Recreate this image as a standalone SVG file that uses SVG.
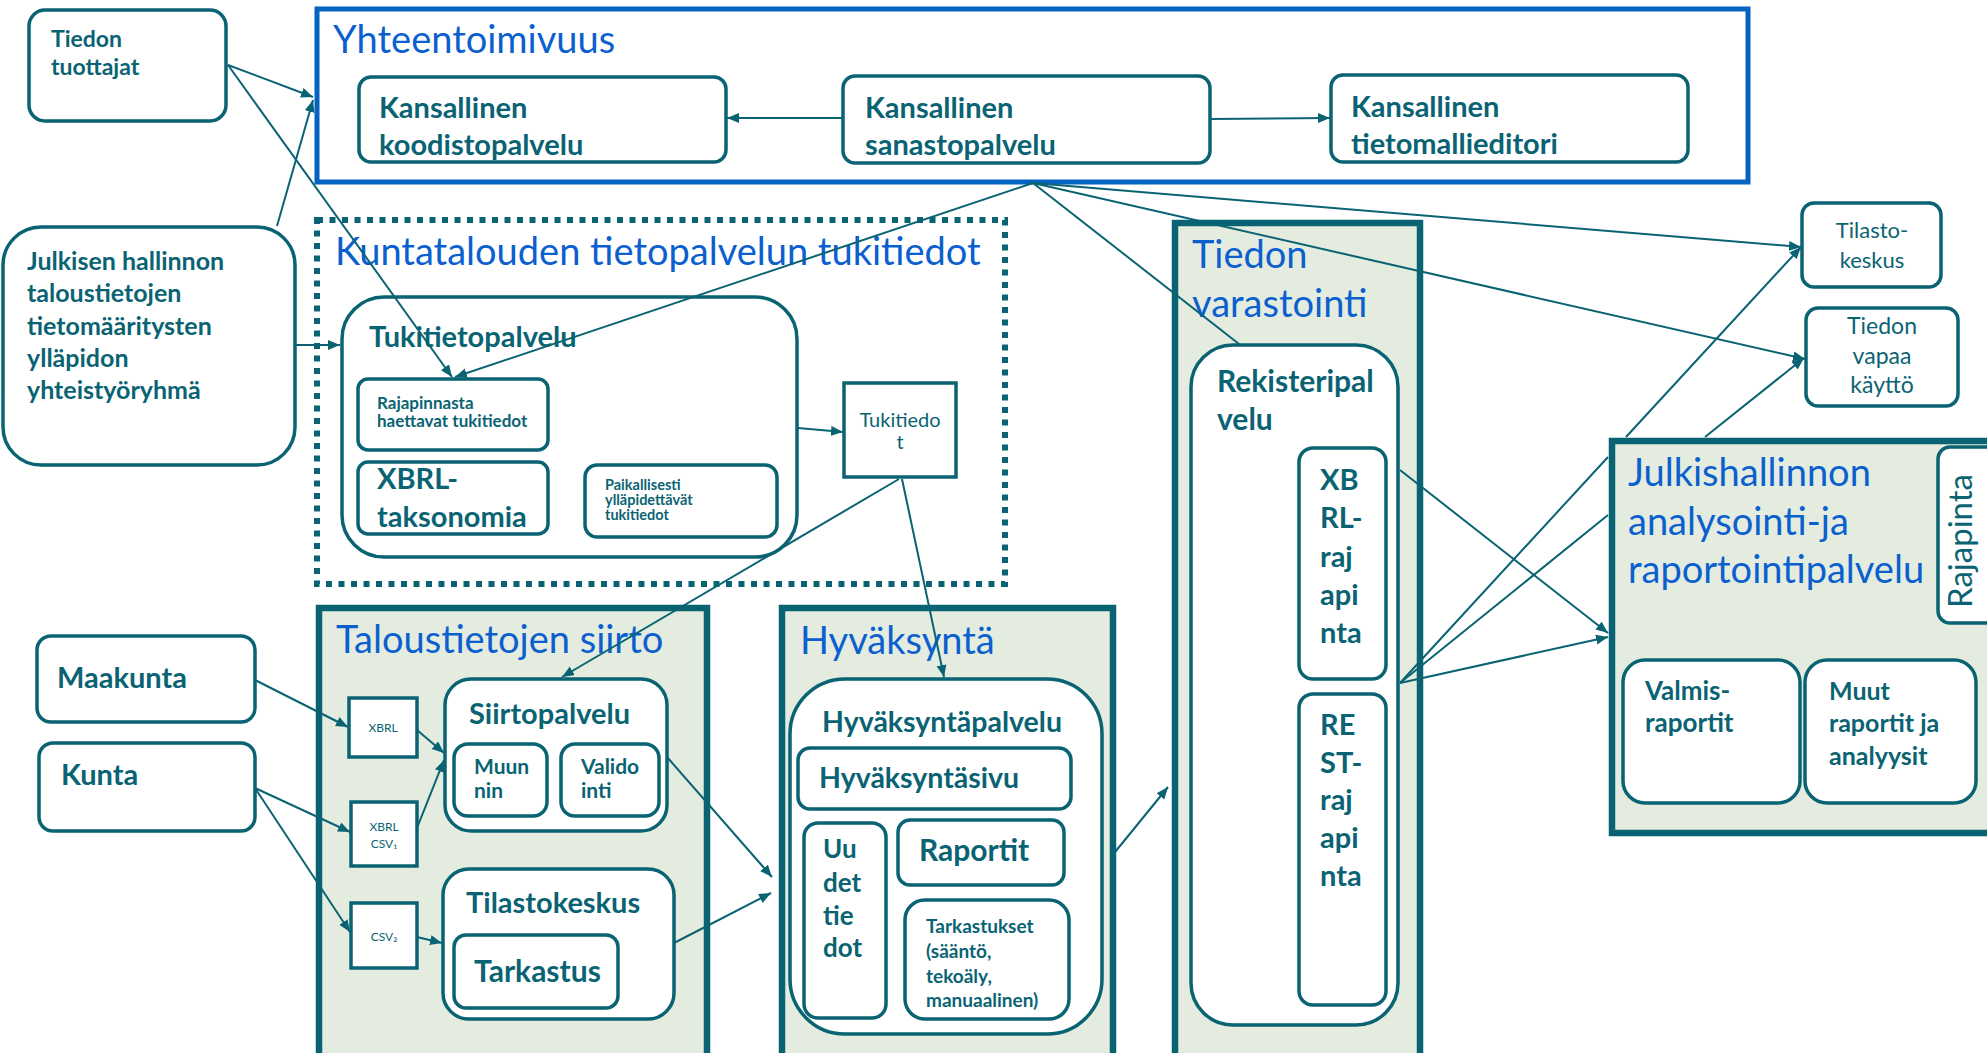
<svg xmlns="http://www.w3.org/2000/svg" width="1987" height="1053" viewBox="0 0 1987 1053">
<defs>
<marker id="arr" markerUnits="userSpaceOnUse" markerWidth="13" markerHeight="11" refX="12" refY="5" orient="auto">
<path d="M0,0 L12,5 L0,10 z" fill="#0a6373"/>
</marker>
<style>
.box{fill:#fff;stroke:#0a6373;stroke-width:3.5}
.sq{fill:#fff;stroke:#0a6373;stroke-width:3.5}
.cont{fill:#e4ece0;stroke:#0a6373;stroke-width:6.5}
.blue{fill:none;stroke:#0563c1;stroke-width:5}
.dot{fill:none;stroke:#0a6373;stroke-width:6;stroke-dasharray:6 6.5}
.t{font-family:Lato,"Liberation Sans",sans-serif;fill:#0a6373;font-weight:bold}
.r{font-family:Lato,"Liberation Sans",sans-serif;fill:#0a6373;font-weight:normal}
.ti{font-family:Lato,"Liberation Sans",sans-serif;fill:#0b5fcf;font-size:38px}
.c{stroke:#0a6373;stroke-width:2;fill:none}
.ca{stroke:#0a6373;stroke-width:2;fill:none;marker-end:url(#arr)}
</style>
</defs>
<rect width="1987" height="1053" fill="#fff"/>

<g id="yhteentoimivuus">
<rect class="blue" x="317" y="9" width="1431" height="173"/>
<text class="ti" x="333" y="53">Yhteentoimivuus</text>
</g>
<g id="koodistopalvelu">
<rect class="box" x="359" y="77" width="367" height="85" rx="12"/>
<text class="t" font-size="29" x="379" y="118">Kansallinen</text>
<text class="t" font-size="29" x="379" y="155">koodistopalvelu</text>
</g>
<g id="sanastopalvelu">
<rect class="box" x="843" y="76" width="367" height="87" rx="12"/>
<text class="t" font-size="29" x="865" y="118">Kansallinen</text>
<text class="t" font-size="29" x="865" y="155">sanastopalvelu</text>
</g>
<g id="tietomallieditori">
<rect class="box" x="1331" y="75" width="357" height="87" rx="12"/>
<text class="t" font-size="29" x="1351" y="117">Kansallinen</text>
<text class="t" font-size="29" x="1351" y="154">tietomallieditori</text>
</g>

<g id="tiedon-tuottajat">
<rect class="box" x="29" y="10" width="197" height="111" rx="16"/>
<text class="t" font-size="23" x="51" y="47">Tiedon</text>
<text class="t" font-size="23" x="51" y="75">tuottajat</text>
</g>
<g id="julkisen-hallinnon">
<rect class="box" x="3" y="227" width="292" height="238" rx="38"/>
<text class="t" font-size="25" x="27" y="270">Julkisen hallinnon</text>
<text class="t" font-size="25" x="27" y="302">taloustietojen</text>
<text class="t" font-size="25" x="27" y="335">tietomääritysten</text>
<text class="t" font-size="25" x="27" y="367">ylläpidon</text>
<text class="t" font-size="25" x="27" y="399">yhteistyöryhmä</text>
</g>

<g id="kuntatalouden-tukitiedot">
<rect class="dot" x="317" y="220" width="688" height="364"/>
<text class="ti" x="335" y="265">Kuntatalouden tietopalvelun tukitiedot</text>
</g>
<g id="tukitietopalvelu">
<rect class="box" x="342" y="297" width="455" height="260" rx="42"/>
<text class="t" font-size="29" x="369" y="347">Tukitietopalvelu</text>
</g>
<g id="rajapinnasta">
<rect class="box" x="358" y="379" width="190" height="71" rx="10"/>
<text class="t" font-size="17" x="377" y="409">Rajapinnasta</text>
<text class="t" font-size="17" x="377" y="427">haettavat tukitiedot</text>
</g>
<g id="xbrl-taksonomia">
<rect class="box" x="358" y="462" width="190" height="72" rx="10"/>
<text class="t" font-size="29" x="377" y="489">XBRL-</text>
<text class="t" font-size="29" x="377" y="527">taksonomia</text>
</g>
<g id="paikallisesti">
<rect class="box" x="585" y="465" width="192" height="72" rx="12"/>
<text class="t" font-size="14.5" x="605" y="490">Paikallisesti</text>
<text class="t" font-size="14.5" x="605" y="505">ylläpidettävät</text>
<text class="t" font-size="14.5" x="605" y="520">tukitiedot</text>
</g>
<g id="tukitiedot">
<rect class="sq" x="844" y="383" width="112" height="94"/>
<text class="r" font-size="20" x="900" y="427" text-anchor="middle">Tukitiedo</text>
<text class="r" font-size="20" x="900" y="449" text-anchor="middle">t</text>
</g>

<g id="taloustietojen-siirto">
<rect class="cont" x="319" y="608" width="388" height="460"/>
<text class="ti" x="336" y="653">Taloustietojen siirto</text>
</g>
<g id="maakunta">
<rect class="box" x="37" y="636" width="218" height="86" rx="14"/>
<text class="t" font-size="29" x="57" y="688">Maakunta</text>
</g>
<g id="kunta">
<rect class="box" x="39" y="743" width="216" height="88" rx="14"/>
<text class="t" font-size="29" x="61" y="785">Kunta</text>
</g>
<g id="xbrl">
<rect class="sq" x="349" y="698" width="68" height="59"/>
<text class="r" font-size="12" x="383" y="732" text-anchor="middle">XBRL</text>
</g>
<g id="xbrl-csv1">
<rect class="sq" x="351" y="802" width="66" height="64"/>
<text class="r" font-size="12" x="384" y="831" text-anchor="middle">XBRL</text>
<text class="r" font-size="12" x="384" y="848" text-anchor="middle">CSV₁</text>
</g>
<g id="csv2">
<rect class="sq" x="351" y="903" width="66" height="65"/>
<text class="r" font-size="12" x="384" y="941" text-anchor="middle">CSV₂</text>
</g>
<g id="siirtopalvelu">
<rect class="box" x="445" y="679" width="222" height="152" rx="26"/>
<text class="t" font-size="29" x="469" y="724">Siirtopalvelu</text>
</g>
<g id="muunnin">
<rect class="box" x="454" y="744" width="93" height="72" rx="14"/>
<text class="t" font-size="21" x="474" y="774">Muun</text>
<text class="t" font-size="21" x="474" y="798">nin</text>
</g>
<g id="validointi">
<rect class="box" x="561" y="744" width="98" height="72" rx="14"/>
<text class="t" font-size="21" x="581" y="774">Valido</text>
<text class="t" font-size="21" x="581" y="798">inti</text>
</g>
<g id="tilastokeskus-siirto">
<rect class="box" x="443" y="869" width="231" height="150" rx="26"/>
<text class="t" font-size="29" x="466" y="913">Tilastokeskus</text>
</g>
<g id="tarkastus">
<rect class="box" x="454" y="935" width="164" height="73" rx="12"/>
<text class="t" font-size="30" x="474" y="982">Tarkastus</text>
</g>

<g id="hyvaksynta">
<rect class="cont" x="782" y="608" width="331" height="460"/>
<text class="ti" x="800" y="654">Hyväksyntä</text>
</g>
<g id="hyvaksyntapalvelu">
<rect class="box" x="790" y="679" width="312" height="355" rx="55"/>
<text class="t" font-size="28.5" x="822" y="732">Hyväksyntäpalvelu</text>
</g>
<g id="hyvaksyntasivu">
<rect class="box" x="798" y="748" width="273" height="61" rx="12"/>
<text class="t" font-size="28.5" x="819" y="788">Hyväksyntäsivu</text>
</g>
<g id="uudet-tiedot">
<rect class="box" x="804" y="823" width="82" height="195" rx="14"/>
<text class="t" font-size="26" x="823" y="858">Uu</text>
<text class="t" font-size="26" x="823" y="892">det</text>
<text class="t" font-size="26" x="823" y="925">tie</text>
<text class="t" font-size="26" x="823" y="957">dot</text>
</g>
<g id="raportit">
<rect class="box" x="898" y="820" width="166" height="65" rx="12"/>
<text class="t" font-size="30" x="919" y="861">Raportit</text>
</g>
<g id="tarkastukset">
<rect class="box" x="905" y="900" width="164" height="119" rx="20"/>
<text class="t" font-size="19" x="926" y="933">Tarkastukset</text>
<text class="t" font-size="19" x="926" y="958">(sääntö,</text>
<text class="t" font-size="19" x="926" y="983">tekoäly,</text>
<text class="t" font-size="19" x="926" y="1007">manuaalinen)</text>
</g>

<g id="tiedon-varastointi">
<rect class="cont" x="1175" y="223" width="245" height="845"/>
<text class="ti" x="1192" y="268">Tiedon</text>
<text class="ti" x="1192" y="317">varastointi</text>
</g>
<g id="rekisteripalvelu">
<rect class="box" x="1191" y="345" width="207" height="680" rx="42"/>
<text class="t" font-size="30" x="1217" y="392">Rekisteripal</text>
<text class="t" font-size="30" x="1217" y="430">velu</text>
</g>
<g id="xbrl-rajapinta">
<rect class="box" x="1299" y="448" width="87" height="231" rx="14"/>
<text class="t" font-size="29" x="1320" y="490">XB</text>
<text class="t" font-size="29" x="1320" y="528">RL-</text>
<text class="t" font-size="29" x="1320" y="567">raj</text>
<text class="t" font-size="29" x="1320" y="605">api</text>
<text class="t" font-size="29" x="1320" y="643">nta</text>
</g>
<g id="rest-rajapinta">
<rect class="box" x="1299" y="694" width="87" height="311" rx="14"/>
<text class="t" font-size="29" x="1320" y="735">RE</text>
<text class="t" font-size="29" x="1320" y="773">ST-</text>
<text class="t" font-size="29" x="1320" y="810">raj</text>
<text class="t" font-size="29" x="1320" y="848">api</text>
<text class="t" font-size="29" x="1320" y="886">nta</text>
</g>

<g id="tilastokeskus">
<rect class="box" x="1802" y="203" width="139" height="84" rx="12"/>
<text class="r" font-size="22" x="1872" y="238" text-anchor="middle">Tilasto-</text>
<text class="r" font-size="22" x="1872" y="268" text-anchor="middle">keskus</text>
</g>
<g id="tiedon-vapaa-kaytto">
<rect class="box" x="1806" y="308" width="152" height="98" rx="12"/>
<text class="r" font-size="23" x="1882" y="334" text-anchor="middle">Tiedon</text>
<text class="r" font-size="23" x="1882" y="364" text-anchor="middle">vapaa</text>
<text class="r" font-size="23" x="1882" y="393" text-anchor="middle">käyttö</text>
</g>

<g id="connectors">
<path class="ca" d="M228,65 L313,97"/>
<path class="ca" d="M228,65 L452,377"/>
<path class="ca" d="M277,226 L313,100"/>
<path class="ca" d="M296,345 L340,345"/>
<path class="ca" d="M843,118 L727,118"/>
<path class="ca" d="M1210,119 L1330,118"/>
<path class="ca" d="M1033,183 L455,377"/>
<path class="c" d="M1033,183 L1239,344"/>
<path class="ca" d="M1033,183 L1801,247"/>
<path class="ca" d="M1033,183 L1805,359"/>
<path class="ca" d="M798,428 L843,432"/>
<path class="ca" d="M899,479 L562,677"/>
<path class="ca" d="M902,479 L944,677"/>
<path class="ca" d="M255,680 L348,727"/>
<path class="ca" d="M255,788 L350,832"/>
<path class="ca" d="M255,788 L350,932"/>
<path class="ca" d="M417,730 L444,753"/>
<path class="ca" d="M417,828 L444,760"/>
<path class="ca" d="M417,937 L442,943"/>
<path class="ca" d="M667,757 L772,877"/>
<path class="ca" d="M674,943 L771,893"/>
<path class="ca" d="M1111,857 L1168,787"/>
<path class="ca" d="M1400,470 L1608,633"/>
<path class="ca" d="M1400,683 L1608,637"/>
<path class="ca" d="M1400,683 L1608,457 M1626,437 L1801,247"/>
<path class="ca" d="M1400,683 L1608,515 M1705,437 L1804,358"/>
</g>

<g id="julkishallinnon">
<rect class="cont" x="1612" y="441" width="390" height="392"/>
<text class="ti" x="1628" y="486">Julkishallinnon</text>
<text class="ti" x="1628" y="535">analysointi-ja</text>
<text class="ti" x="1628" y="583">raportointipalvelu</text>
</g>
<g id="rajapinta">
<rect class="box" x="1938" y="447" width="60" height="176" rx="12"/>
<text class="r" font-size="33" x="1972" y="541" text-anchor="middle" transform="rotate(-90 1972 541)">Rajapinta</text>
</g>
<g id="valmisraportit">
<rect class="box" x="1623" y="660" width="177" height="143" rx="22"/>
<text class="t" font-size="26" x="1645" y="700">Valmis-</text>
<text class="t" font-size="26" x="1645" y="732">raportit</text>
</g>
<g id="muut-raportit">
<rect class="box" x="1805" y="660" width="171" height="143" rx="22"/>
<text class="t" font-size="25" x="1829" y="700">Muut</text>
<text class="t" font-size="25" x="1829" y="732">raportit ja</text>
<text class="t" font-size="25" x="1829" y="765">analyysit</text>
</g>
</svg>
